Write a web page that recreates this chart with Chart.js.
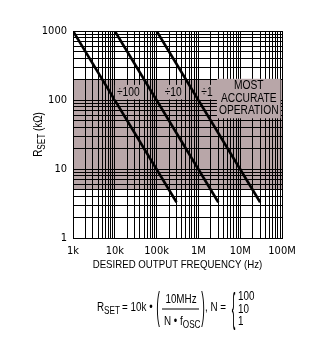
<!DOCTYPE html>
<html>
<head>
<meta charset="utf-8">
<script src="https://cdn.jsdelivr.net/npm/chart.js@4"></script>
<style>
  html, body { margin: 0; padding: 0; background: #fff; }
</style>
</head>
<body>
<canvas id="myChart" width="323" height="337"></canvas>
<script>
const TICKFONT = "'DejaVu Sans Condensed', 'Liberation Sans', Arial, sans-serif";
const SANS = "'Liberation Sans', Arial, sans-serif";

// axis ticks
const freqTicks = [1e3, 1e4, 1e5, 1e6, 1e7, 1e8];
const freqLabels = ['1k', '10k', '100k', '1M', '10M', '100M'];
const rTicks = [1, 10, 100, 1000];
const rLabels = ['1', '10', '100', '1000'];

// R_SET lines, one per divider
const dividers = ['÷100', '÷10', '÷1'];
const startHz = [1e3, 1e4, 1e5];
const startR = [1000, 1000, 1000];
const endHz = [3e5, 3e6, 3e7];
const endR = [3.3, 3.3, 3.3];

// most accurate operating band (kOhm)
const bandLow = 5;
const bandHigh = 200;

const bandColor = 'rgb(184, 166, 168)';

// text labels inside the plot
const notes = [
  { lines: ['÷100'], x: 2.1e4, y: 130 },
  { lines: ['÷10'], x: 2.5e5, y: 130 },
  { lines: ['÷1'], x: 1.6e6, y: 130 },
  { lines: ['MOST', 'ACCURATE', 'OPERATION'], x: 1.6e7, y: 105 },
];

// 1..9 in every decade, for the log grid
function logGrid(min, max) {
  const out = [];
  for (let d = min; d < max; d *= 10) {
    for (let m = 1; m < 10; m++) out.push({ value: d * m });
  }
  out.push({ value: max });
  return out;
}

// narrow text, like the condensed face of the original
function ctext(ctx, s, x, y, size, align, sx = 0.82, sy = 1) {
  ctx.save();
  ctx.font = size + 'px ' + SANS;
  ctx.translate(x, y);
  ctx.scale(sx, sy);
  ctx.textAlign = align;
  ctx.textBaseline = 'middle';
  ctx.fillStyle = '#000';
  ctx.fillText(s, 0, 0);
  const w = ctx.measureText(s).width * sx;
  ctx.restore();
  return w;
}

function drawFormula(ctx) {
  // R_SET = 10k • ( 10MHz / N • fOSC ), N = {100, 10, 1}
  let x = 97;
  x += ctext(ctx, 'R', x, 308, 12, 'left');
  x += ctext(ctx, 'SET', x, 311, 10, 'left');
  ctext(ctx, '= 10k •', x + 2, 308, 12, 'left');
  ctext(ctx, '(', 158, 308, 12, 'center', 0.9, 3.2);
  ctext(ctx, '10MHz', 181, 300, 12, 'center');
  ctx.fillRect(162, 308.5, 37, 1);
  x = 164;
  x += ctext(ctx, 'N • f', x, 322, 12, 'left');
  ctext(ctx, 'OSC', x, 325, 10, 'left');
  ctext(ctx, ')', 203, 308, 12, 'center', 0.9, 3.2);
  ctext(ctx, ', N =', 205, 308, 12, 'left');
  ctext(ctx, '{', 233.5, 311, 12, 'center', 0.9, 3.4);
  ctext(ctx, '100', 238, 297, 12, 'left');
  ctext(ctx, '10', 238, 309.5, 12, 'left');
  ctext(ctx, '1', 238, 322, 12, 'left');
}

const bandPlugin = {
  id: 'band',
  beforeDraw(chart) {
    const { ctx, chartArea, scales } = chart;
    const yTop = scales.y.getPixelForValue(bandHigh);
    const yBot = scales.y.getPixelForValue(bandLow);
    ctx.save();
    ctx.fillStyle = bandColor;
    ctx.fillRect(chartArea.left, yTop, chartArea.right - chartArea.left, yBot - yTop);
    ctx.restore();
  },
  afterDatasetsDraw(chart) {
    const { ctx, scales } = chart;
    ctx.save();
    notes.forEach(n => {
      const cx = scales.x.getPixelForValue(n.x);
      const cy = scales.y.getPixelForValue(n.y);
      const lh = 12.5;
      ctx.font = '12.5px ' + SANS;
      const w = Math.max(...n.lines.map(l => ctx.measureText(l).width)) * 0.82 + 4;
      const h = n.lines.length * lh + 2;
      ctx.fillStyle = bandColor;
      ctx.fillRect(cx - w / 2, cy - h / 2, w, h);
      n.lines.forEach((l, i) => {
        ctext(ctx, l, cx, cy + (i - (n.lines.length - 1) / 2) * lh, 12.5, 'center');
      });
    });
    ctx.restore();
  },
  afterDraw(chart) {
    const { ctx, chartArea } = chart;
    ctx.save();
    // x title
    ctext(ctx, 'DESIRED OUTPUT FREQUENCY (Hz)', (chartArea.left + chartArea.right) / 2, 265, 11.5, 'center', 0.84);
    // y title, rotated, with subscript
    ctx.save();
    ctx.translate(39, (chartArea.top + chartArea.bottom) / 2);
    ctx.rotate(-Math.PI / 2);
    ctx.font = '12px ' + SANS;
    const w1 = ctx.measureText('R').width * 0.82;
    const w3 = ctx.measureText(' (kΩ)').width * 0.82;
    ctx.font = '10px ' + SANS;
    const w2 = ctx.measureText('SET').width * 0.82;
    let x = -(w1 + w2 + w3) / 2;
    x += ctext(ctx, 'R', x, 0, 12, 'left');
    x += ctext(ctx, 'SET', x, 3, 10, 'left');
    ctext(ctx, ' (kΩ)', x, 0, 12, 'left');
    ctx.restore();
    // formula under the chart
    ctx.fillStyle = '#000';
    drawFormula(ctx);
    ctx.restore();
  },
};

const datasets = dividers.map((name, i) => ({
  label: name,
  data: [
    { x: startHz[i], y: startR[i] },
    { x: endHz[i], y: endR[i] },
  ],
  showLine: true,
  borderColor: '#000',
  borderWidth: 2.6,
  pointRadius: 0,
  fill: false,
}));

const config = {
  type: 'scatter',
  data: { datasets: datasets },
  options: {
    responsive: false,
    animation: false,
    layout: { padding: { top: 31, right: 41, bottom: 69, left: 0 } },
    plugins: { legend: { display: false }, tooltip: { enabled: false } },
    scales: {
      x: {
        type: 'logarithmic',
        min: freqTicks[0],
        max: freqTicks[freqTicks.length - 1],
        afterBuildTicks: s => { s.ticks = logGrid(freqTicks[0], freqTicks[freqTicks.length - 1]); },
        afterFit: s => { s.height = 30; },
        grid: { color: '#000', lineWidth: 1, drawTicks: false },
        border: { color: '#000', width: 1 },
        ticks: {
          color: '#000',
          font: { family: TICKFONT, size: 11 },
          padding: 7,
          autoSkip: false,
          maxRotation: 0,
          callback: v => { const i = freqTicks.indexOf(v); return i >= 0 ? freqLabels[i] : ''; },
        },
      },
      y: {
        type: 'logarithmic',
        min: rTicks[0],
        max: rTicks[rTicks.length - 1],
        afterBuildTicks: s => { s.ticks = logGrid(rTicks[0], rTicks[rTicks.length - 1]); },
        afterFit: s => { s.width = 73; },
        grid: { color: '#000', lineWidth: 1, drawTicks: false },
        border: { color: '#000', width: 1 },
        ticks: {
          color: '#000',
          font: { family: TICKFONT, size: 11 },
          padding: 6,
          autoSkip: false,
          callback: v => { const i = rTicks.indexOf(v); return i >= 0 ? rLabels[i] : ''; },
        },
      },
    },
  },
  plugins: [bandPlugin],
};

const myChart = new Chart(document.getElementById('myChart'), config);
</script>
</body>
</html>
